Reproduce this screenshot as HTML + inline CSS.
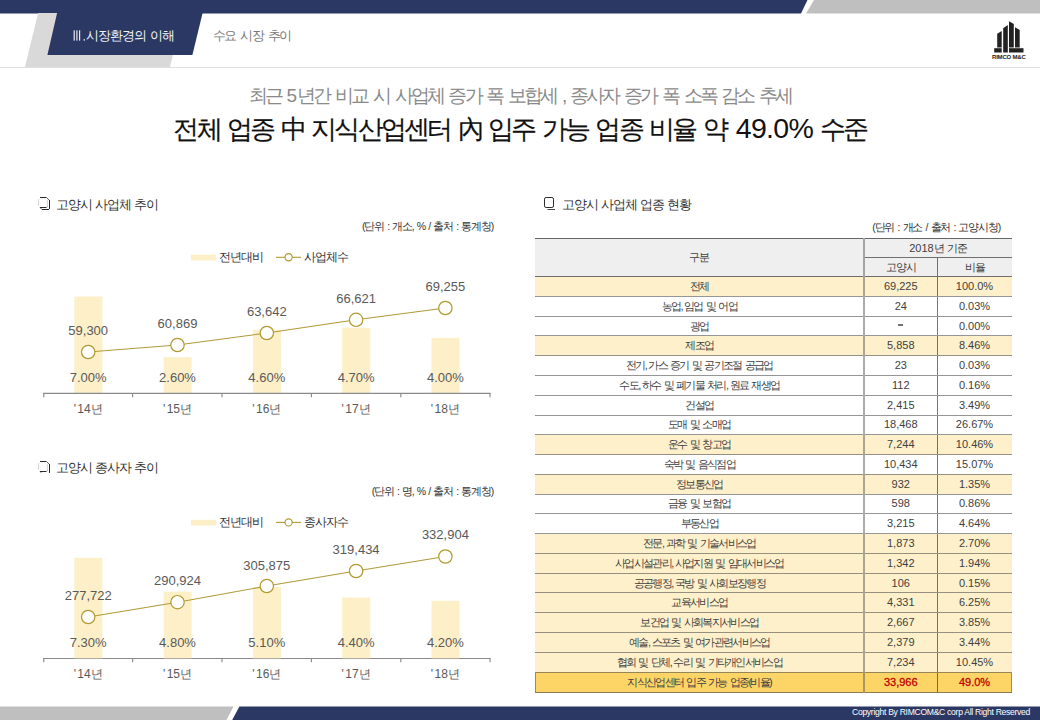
<!DOCTYPE html>
<html lang="ko">
<head>
<meta charset="utf-8">
<style>
*{margin:0;padding:0;box-sizing:border-box}
html,body{width:1040px;height:720px;overflow:hidden;background:#fff}
body{position:relative;font-family:"Liberation Sans",sans-serif;color:#333}
.abs{position:absolute;white-space:nowrap}
svg{position:absolute;left:0;top:0}
.sub{left:0;width:1040px;text-align:center;top:83px;font-size:19px;color:#8a8a8a;letter-spacing:-2.95px;word-spacing:3.4px}
.title{left:0;width:1040px;text-align:center;top:112px;font-size:26px;color:#111;letter-spacing:-2.75px;word-spacing:2.7px;-webkit-text-stroke:0.2px #111}
.sec{font-size:13px;color:#333;letter-spacing:-1.25px;word-spacing:1.4px}
.sec .ic{display:inline-block;width:12px;height:12px;margin-right:6px;vertical-align:-1px}
.unit{font-size:10.5px;color:#333;letter-spacing:-1.2px;word-spacing:1.6px}
.leg{font-size:12px;color:#333;letter-spacing:-0.95px}
table{position:absolute;left:535px;top:238px;width:476px;border-collapse:collapse;table-layout:fixed;font-size:11px;color:#404040}
td{height:19.78px;text-align:center;border-top:1px solid rgba(80,80,80,0.6);border-bottom:1px solid rgba(80,80,80,0.6);padding:0;line-height:17px;white-space:nowrap}
td.c0{letter-spacing:-1.7px;word-spacing:1.8px;border-left:1px solid transparent}
td.c2{border-right:1px solid transparent}
td.c1{border-left:2px solid rgba(90,90,90,0.5)}
td.c2{border-left:1px solid rgba(60,60,60,0.7)}
.cm{letter-spacing:0.5px;margin-left:0.4px}
tr.y td{background:#fef0ca}
tr.y td.c0{border-left-color:#fef0ca}
tr.y td.c2{border-right-color:#fef0ca}
tr.h td.c0{border-left-color:#efefef}
tr.h td.c2{border-right-color:#efefef}
tr.h td{background:#efefef;height:19.1px;letter-spacing:-1.2px;word-spacing:1.8px}
tr.h2 td{border-bottom-color:#6e6e6e}
tr.last td{height:20.5px;background:#fdd566;color:#c00000;-webkit-text-stroke:0.3px #c00000;border-bottom-color:#8a7a50}
tr.last td.c0{color:#404040;-webkit-text-stroke:0;border-left:1px solid #8a8a8a}
tr.last td.c2{border-right:1px solid #8a8a8a}
</style>
</head>
<body>
<!-- header bands -->
<svg width="1040" height="720" viewBox="0 0 1040 720">
  <polygon points="0,0 807.5,0 801,13.5 0,13.5" fill="#2b3863"/>
  <polygon points="814,0 1040,0 1040,13.5 806,13.5" fill="#bfbfbf"/>
  <polygon points="38.1,13 183,13 170,67 25,67" fill="#d9d9d9"/>
  <polygon points="57.1,13 202.6,13 192.4,54.9 47.4,54.9" fill="#2b3863"/>
  <rect x="0" y="67" width="1040" height="1" fill="#e0e0e0"/>
  <!-- footer -->
  <polygon points="0,706.5 233.6,706.5 226.4,720 0,720" fill="#bfbfbf"/>
  <polygon points="239.4,706.5 1040,706.5 1040,720 232.2,720" fill="#2b3863"/>

  <!-- section icons -->
  <g fill="none">
    <path d="M40,197.5 H46.5 M40,207.5 H46.5" stroke="#2a2a2a" stroke-width="1"/>
    <path d="M38.6,199 V206 M47.4,199.5 V206" stroke="#cfcfcf" stroke-width="0.9"/>
    <path d="M46.5,197.5 L49,200 M46.5,207.5 L47.5,206.5 M40,207.5 L42,209.5" stroke="#555" stroke-width="0.9"/>
    <path d="M49.5,200 V209 M42,209.5 H49" stroke="#2a2a2a" stroke-width="1"/>
  </g>
  <g fill="none" transform="translate(0,264)">
    <path d="M40,197.5 H46.5 M40,207.5 H46.5" stroke="#2a2a2a" stroke-width="1"/>
    <path d="M38.6,199 V206 M47.4,199.5 V206" stroke="#cfcfcf" stroke-width="0.9"/>
    <path d="M46.5,197.5 L49,200 M46.5,207.5 L47.5,206.5 M40,207.5 L41.3,208.8" stroke="#555" stroke-width="0.9"/>
    <path d="M49.5,200 V209" stroke="#2a2a2a" stroke-width="1"/>
  </g>
  <g fill="none">
    <rect x="544.5" y="197.5" width="9" height="10" rx="1.6" stroke="#2a2a2a" stroke-width="1"/>
    <path d="M547.5,209.5 H555" stroke="#444" stroke-width="1"/>
  </g>
  <!-- logo -->
  <g fill="#222">
    <polygon points="997.2,33.8 1001.7,31 1001.7,47.6 997.2,47.6"/>
    <polygon points="1003.2,28.2 1007.8,25 1007.8,52.5 1003.2,52.5"/>
    <polygon points="1009,21.3 1013.8,24 1013.8,47.6 1009,47.6"/>
    <polygon points="1015,27.2 1019.7,30 1019.7,47.6 1015,47.6"/>
    <rect x="994.2" y="48.2" width="7.5" height="4.3"/>
    <rect x="1009" y="48.2" width="14.5" height="4.3"/>
  </g>
</svg>
<div class="abs" style="left:852px;top:707px;font-size:8.6px;color:#fff;letter-spacing:-0.3px">Copyright By RIMCOM&amp;C corp All Right Reserved</div>
<div class="abs" style="left:992px;top:53.5px;font-size:6px;font-weight:bold;color:#222;letter-spacing:-0.2px">RIMCO M&amp;C</div>

<svg width="100" height="60" style="left:0;top:0"><g fill="#e8e9f0"><rect x="73.6" y="30.3" width="1.2" height="10.3"/><rect x="76.3" y="30.3" width="1.2" height="10.3"/><rect x="79" y="30.3" width="1.2" height="10.3"/><rect x="83.6" y="39.2" width="1.4" height="1.4"/></g></svg>
<div class="abs" style="left:86.4px;top:28px;font-size:12.5px;color:#f4f4f8;letter-spacing:-1.0px;word-spacing:1.6px">시장환경의 이해</div>
<div class="abs" style="left:212.5px;top:27.5px;font-size:12.5px;color:#777;letter-spacing:-1.25px;word-spacing:1.8px">수요 시장 추이</div>

<div class="abs sub">최근 <span style="letter-spacing:0">5</span>년간 비교 시 사업체 증가 폭 보합세 , 종사자 증가 폭 소폭 감소 추세</div>
<div class="abs title">전체 업종 中 지식산업센터 內 입주 가능 업종 비율 약 <span style="font-size:28.5px;letter-spacing:-0.7px;margin-left:2.5px;-webkit-text-stroke:0">49.0%</span> 수준</div>

<!-- left section 1 -->
<div class="abs sec" style="left:56px;top:196px">고양시 사업체 추이</div>
<div class="abs unit" style="right:547px;top:220px">(단위 : 개소, % / 출처 : 통계청)</div>
<div class="abs leg" style="left:219px;top:249px">전년대비</div>
<div class="abs leg" style="left:304px;top:249px">사업체수</div>

<!-- left section 2 -->
<div class="abs sec" style="left:56px;top:459px">고양시 종사자 추이</div>
<div class="abs unit" style="right:547px;top:485px">(단위 : 명, % / 출처 : 통계청)</div>
<div class="abs leg" style="left:219px;top:514px">전년대비</div>
<div class="abs leg" style="left:304px;top:514px">종사자수</div>

<svg width="1040" height="720" viewBox="0 0 1040 720" font-family="Liberation Sans, sans-serif">
  <!-- chart 1 -->
  <g fill="#fdefc8">
    <rect x="191" y="254.7" width="25" height="5.8"/>
    <rect x="74.3" y="296.5" width="28" height="96.5"/>
    <rect x="163.6" y="357.2" width="28" height="35.8"/>
    <rect x="252.9" y="329.8" width="28" height="63.2"/>
    <rect x="342.2" y="327.7" width="28" height="65.3"/>
    <rect x="431.5" y="337.8" width="28" height="55.2"/>
  </g>
  <g stroke="#8a8a8a" stroke-width="1.15" fill="none">
    <line x1="43.3" y1="393.4" x2="490.4" y2="393.4"/>
    <line x1="43.8" y1="393" x2="43.8" y2="397.2"/>
    <line x1="132.6" y1="393" x2="132.6" y2="397.2"/>
    <line x1="222" y1="393" x2="222" y2="397.2"/>
    <line x1="311.4" y1="393" x2="311.4" y2="397.2"/>
    <line x1="400.8" y1="393" x2="400.8" y2="397.2"/>
    <line x1="490" y1="393" x2="490" y2="397.2"/>
  </g>
  <g stroke="#b09a38" stroke-width="1.1" fill="none">
    <line x1="276" y1="257.3" x2="301" y2="257.3"/>
    <polyline points="88.2,352 177.5,345 266.8,333 356.1,319.8 445.4,308"/>
  </g>
  <g stroke="#b09a30" stroke-width="1.2" fill="#fff">
    <circle cx="288.6" cy="257.3" r="3.6"/>
    <circle cx="88.2" cy="352" r="6.7"/>
    <circle cx="177.5" cy="345" r="6.7"/>
    <circle cx="266.8" cy="333" r="6.7"/>
    <circle cx="356.1" cy="319.8" r="6.7"/>
    <circle cx="445.4" cy="308" r="6.7"/>
  </g>
  <g font-size="13" fill="#595959" text-anchor="middle">
    <text x="88.2" y="335">59,300</text>
    <text x="177.5" y="328">60,869</text>
    <text x="266.8" y="316">63,642</text>
    <text x="356.1" y="302.5">66,621</text>
    <text x="445.4" y="291">69,255</text>
    <text x="88.2" y="382">7.00%</text>
    <text x="177.5" y="382">2.60%</text>
    <text x="266.8" y="382">4.60%</text>
    <text x="356.1" y="382">4.70%</text>
    <text x="445.4" y="382">4.00%</text>
  </g>
  <g font-size="12" fill="#595959" text-anchor="middle">
    <text x="88.2" y="412.7">'<tspan dx="1.4">14년</tspan></text>
    <text x="177.5" y="412.7">'<tspan dx="1.4">15년</tspan></text>
    <text x="266.8" y="412.7">'<tspan dx="1.4">16년</tspan></text>
    <text x="356.1" y="412.7">'<tspan dx="1.4">17년</tspan></text>
    <text x="445.4" y="412.7">'<tspan dx="1.4">18년</tspan></text>
  </g>

  <!-- chart 2 -->
  <g transform="translate(0,265.1)">
  <g fill="#fdefc8">
    <rect x="191" y="254.7" width="25" height="5.8"/>
  </g>
  <g stroke="#8a8a8a" stroke-width="1.15" fill="none">
    <line x1="43.3" y1="393.4" x2="490.4" y2="393.4"/>
    <line x1="43.8" y1="393" x2="43.8" y2="397.2"/>
    <line x1="132.6" y1="393" x2="132.6" y2="397.2"/>
    <line x1="222" y1="393" x2="222" y2="397.2"/>
    <line x1="311.4" y1="393" x2="311.4" y2="397.2"/>
    <line x1="400.8" y1="393" x2="400.8" y2="397.2"/>
    <line x1="490" y1="393" x2="490" y2="397.2"/>
  </g>
  <g stroke="#b09a38" stroke-width="1.1" fill="none">
    <line x1="276" y1="257.3" x2="301" y2="257.3"/>
  </g>
  <g stroke="#b09a30" stroke-width="1.2" fill="#fff">
    <circle cx="288.6" cy="257.3" r="3.6"/>
  </g>
  <g font-size="12" fill="#595959" text-anchor="middle">
    <text x="88.2" y="412.7">'<tspan dx="1.4">14년</tspan></text>
    <text x="177.5" y="412.7">'<tspan dx="1.4">15년</tspan></text>
    <text x="266.8" y="412.7">'<tspan dx="1.4">16년</tspan></text>
    <text x="356.1" y="412.7">'<tspan dx="1.4">17년</tspan></text>
    <text x="445.4" y="412.7">'<tspan dx="1.4">18년</tspan></text>
  </g>
  </g>
  <g fill="#fdefc8">
    <rect x="74.3" y="557.8" width="28" height="100.5"/>
    <rect x="163.6" y="591.6" width="28" height="66.7"/>
    <rect x="252.9" y="587" width="28" height="71.3"/>
    <rect x="342.2" y="597.5" width="28" height="60.8"/>
    <rect x="431.5" y="600.8" width="28" height="57.5"/>
  </g>
  <g stroke="#b09a38" stroke-width="1.1" fill="none">
    <polyline points="88.2,617 177.5,602.2 266.8,586 356.1,571 445.4,556.5"/>
  </g>
  <g stroke="#b09a30" stroke-width="1.2" fill="#fff">
    <circle cx="88.2" cy="617" r="6.7"/>
    <circle cx="177.5" cy="602.2" r="6.7"/>
    <circle cx="266.8" cy="586" r="6.7"/>
    <circle cx="356.1" cy="571" r="6.7"/>
    <circle cx="445.4" cy="556.5" r="6.7"/>
  </g>
  <g font-size="13" fill="#595959" text-anchor="middle">
    <text x="88.2" y="600">277,722</text>
    <text x="177.5" y="585">290,924</text>
    <text x="266.8" y="569.5">305,875</text>
    <text x="356.1" y="554">319,434</text>
    <text x="445.4" y="539">332,904</text>
    <text x="88.2" y="647.2">7.30%</text>
    <text x="177.5" y="647.2">4.80%</text>
    <text x="266.8" y="647.2">5.10%</text>
    <text x="356.1" y="647.2">4.40%</text>
    <text x="445.4" y="647.2">4.20%</text>
  </g>
</svg>

<!-- right section -->
<div class="abs sec" style="left:562px;top:196px">고양시 사업체 업종 현황</div>
<div class="abs unit" style="right:40px;top:221px">(단위 : 개소 / 출처 : 고양시청)</div>

<table>
<colgroup><col style="width:328px"><col style="width:74px"><col style="width:74px"></colgroup>
<tr class="h"><td class="c0" rowspan="2" style="border-top:1px solid #666;border-bottom-color:#6e6e6e">구분</td><td class="c1" colspan="2" style="border-top:1px solid #666;border-bottom-color:#707070"><span style="letter-spacing:0">2018</span>년 기준</td></tr>
<tr class="h h2"><td class="c1">고양시</td><td class="c2">비율</td></tr>
<tr class="y"><td class="c0">전체</td><td class="c1">69,225</td><td class="c2">100.0%</td></tr>
<tr><td class="c0">농업<span class="cm">,</span>임업 및 어업</td><td class="c1">24</td><td class="c2">0.03%</td></tr>
<tr><td class="c0">광업</td><td class="c1"><span style="display:inline-block;width:4.6px;height:1.8px;background:#707070;vertical-align:3.5px"></span></td><td class="c2">0.00%</td></tr>
<tr class="y"><td class="c0">제조업</td><td class="c1">5,858</td><td class="c2">8.46%</td></tr>
<tr><td class="c0">전기<span class="cm">,</span>가스 증기 및 공기조절 공급업</td><td class="c1">23</td><td class="c2">0.03%</td></tr>
<tr><td class="c0">수도<span class="cm">,</span>하수 및 폐기물 처리<span class="cm">,</span>원료 재생업</td><td class="c1">112</td><td class="c2">0.16%</td></tr>
<tr><td class="c0">건설업</td><td class="c1">2,415</td><td class="c2">3.49%</td></tr>
<tr><td class="c0">도매 및 소매업</td><td class="c1">18,468</td><td class="c2">26.67%</td></tr>
<tr class="y"><td class="c0">운수 및 창고업</td><td class="c1">7,244</td><td class="c2">10.46%</td></tr>
<tr><td class="c0">숙박 및 음식점업</td><td class="c1">10,434</td><td class="c2">15.07%</td></tr>
<tr class="y"><td class="c0">정보통신업</td><td class="c1">932</td><td class="c2">1.35%</td></tr>
<tr><td class="c0">금융 및 보험업</td><td class="c1">598</td><td class="c2">0.86%</td></tr>
<tr><td class="c0">부동산업</td><td class="c1">3,215</td><td class="c2">4.64%</td></tr>
<tr class="y"><td class="c0">전문<span class="cm">,</span>과학 및 기술서비스업</td><td class="c1">1,873</td><td class="c2">2.70%</td></tr>
<tr class="y"><td class="c0">사업시설관리<span class="cm">,</span>사업지원 및 임대서비스업</td><td class="c1">1,342</td><td class="c2">1.94%</td></tr>
<tr class="y"><td class="c0">공공행정<span class="cm">,</span>국방 및 사회보장행정</td><td class="c1">106</td><td class="c2">0.15%</td></tr>
<tr class="y"><td class="c0">교육서비스업</td><td class="c1">4,331</td><td class="c2">6.25%</td></tr>
<tr class="y"><td class="c0">보건업 및 사회복지서비스업</td><td class="c1">2,667</td><td class="c2">3.85%</td></tr>
<tr class="y"><td class="c0">예술<span class="cm">,</span>스포츠 및 여가관련서비스업</td><td class="c1">2,379</td><td class="c2">3.44%</td></tr>
<tr class="y"><td class="c0">협회 및 단체<span class="cm">,</span>수리 및 기타개인서비스업</td><td class="c1">7,234</td><td class="c2">10.45%</td></tr>
<tr class="last"><td class="c0">지식산업센터 입주 가능 업종(비율)</td><td class="c1">33,966</td><td class="c2">49.0%</td></tr>
</table>
</body>
</html>
